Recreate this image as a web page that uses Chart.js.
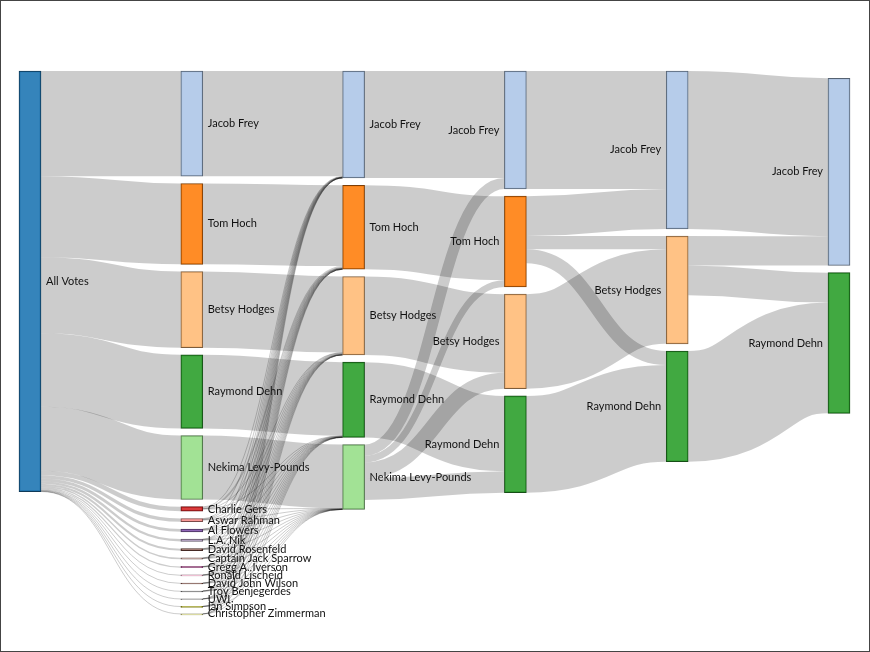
<!DOCTYPE html>
<html>
<head>
<meta charset="utf-8">
<script src="https://cdn.jsdelivr.net/npm/chart.js@4.4.1/dist/chart.umd.min.js"></script>
<style>
  html, body { margin: 0; padding: 0; background: #fff; }
  #wrap { width: 870px; height: 652px; border: 1px solid #444; box-sizing: border-box; }
  canvas { display: block; }
</style>
</head>
<body>
<div id="wrap"><canvas id="sankey" width="868" height="650"></canvas></div>
<script>
// first round votes, main five then minor candidates
const candidates = [
  "Jacob Frey", "Tom Hoch", "Betsy Hodges", "Raymond Dehn", "Nekima Levy-Pounds",
  "Charlie Gers", "Aswar Rahman", "Al Flowers", "L.A. Nik", "David Rosenfeld",
  "Captain Jack Sparrow", "Gregg A. Iverson", "Ronald Lischeid", "David John Wilson",
  "Troy Benjegerdes", "UWI", "Ian Simpson", "Christopher Zimmerman"
];
const firstRound = [22900, 17600, 16550, 16000, 13900, 1000, 720, 620, 520, 440, 300, 260, 210, 170, 130, 90, 60, 30];

// round 2: minor candidates -> Frey, Hoch, Hodges, Dehn, Levy-Pounds
const round2Names = ["Jacob Frey", "Tom Hoch", "Betsy Hodges", "Raymond Dehn", "Nekima Levy-Pounds"];
const minorTransfers = [
  [90, 330, 40, 30, 20],
  [70, 90, 90, 70, 40],
  [30, 40, 120, 60, 50],
  [40, 50, 80, 50, 20],
  [30, 30, 60, 60, 20],
  [30, 30, 40, 20, 10],
  [20, 40, 30, 10, 10],
  [20, 30, 20, 10, 10],
  [20, 20, 20, 10, 5],
  [10, 10, 10, 20, 5],
  [10, 10, 10, 5, 5],
  [5, 5, 5, 10, 5],
  [5, 5, 5, 5, 0]
];

// round 3: Levy-Pounds eliminated
const round3Names = ["Jacob Frey", "Tom Hoch", "Betsy Hodges", "Raymond Dehn"];
const levyTransfers = [2390, 1460, 3490, 4690];

// round 4: Hoch eliminated
const round4Names = ["Jacob Frey", "Betsy Hodges", "Raymond Dehn"];
const hochTransfers = [8680, 2870, 3040];

// round 5: Hodges eliminated
const round5Names = ["Jacob Frey", "Raymond Dehn"];
const hodgesTransfers = [6380, 6510];

const category20 = ["#1f77b4", "#aec7e8", "#ff7f0e", "#ffbb78", "#2ca02c", "#98df8a", "#d62728", "#ff9896",
  "#9467bd", "#c5b0d5", "#8c564b", "#c49c94", "#e377c2", "#f7b6d2", "#7f7f7f", "#c7c7c7",
  "#bcbd22", "#dbdb8d", "#17becf", "#9edae5"];

const NODE_W = 22;
const PAD_PX = 7.2;
const PADDING = { top: 70, bottom: 37, left: 29, right: 30 };
const CANVAS_H = 650;

// colour by first word of the name, like the d3 example
const colorKeys = [];
const colorFor = (name) => {
  const key = name.replace(/ .*/, "");
  let i = colorKeys.indexOf(key);
  if (i < 0) { colorKeys.push(key); i = colorKeys.length - 1; }
  return category20[i % 20];
};
const hexRgb = (hex) => [1, 3, 5].map((i) => parseInt(hex.slice(i, i + 2), 16));
const rgba = (hex, a) => { const c = hexRgb(hex); return `rgba(${c[0]},${c[1]},${c[2]},${a})`; };
const darker = (hex, k) => {
  const f = Math.pow(0.7, k);
  const c = hexRgb(hex).map((v) => Math.round(v * f));
  return `rgb(${c[0]},${c[1]},${c[2]})`;
};

// build nodes and links
const nodes = [];
const links = [];
const columns = [];
const addNode = (name, col) => {
  const n = { name, col, sourceLinks: [], targetLinks: [] };
  nodes.push(n);
  (columns[col] = columns[col] || []).push(n);
  return n;
};
const addLink = (source, target, value) => {
  if (!value) return;
  const l = { source, target, value };
  links.push(l);
  source.sourceLinks.push(l);
  target.targetLinks.push(l);
};
const find = (col, name) => columns[col].find((n) => n.name === name);

const allNode = addNode("All Votes", 0);
candidates.forEach((name, i) => {
  const n = addNode(name, 1);
  addLink(allNode, n, firstRound[i]);
});

const stages = [
  { names: round2Names, out: candidates.slice(5), transfers: minorTransfers },
  { names: round3Names, out: ["Nekima Levy-Pounds"], transfers: [levyTransfers] },
  { names: round4Names, out: ["Tom Hoch"], transfers: [hochTransfers] },
  { names: round5Names, out: ["Betsy Hodges"], transfers: [hodgesTransfers] }
];
stages.forEach((st, s) => {
  const col = s + 2;
  st.names.forEach((name) => addNode(name, col));
  st.names.forEach((name) => {
    const prev = find(col - 1, name);
    const carried = prev.targetLinks.reduce((a, l) => a + l.value, 0);
    addLink(prev, find(col, name), carried);
  });
  st.out.forEach((name, j) => {
    const prev = find(col - 1, name);
    st.names.forEach((t, k) => addLink(prev, find(col, t), st.transfers[j][k]));
  });
});

nodes.forEach((n) => {
  const vin = n.targetLinks.reduce((a, l) => a + l.value, 0);
  const vout = n.sourceLinks.reduce((a, l) => a + l.value, 0);
  n.value = Math.max(vin, vout);
});

// vertical layout in vote units
const plotH = CANVAS_H - PADDING.top - PADDING.bottom;
const maxN = Math.max(...columns.map((c) => c.length));
const biggest = Math.max(...columns.map((c) => c.reduce((a, n) => a + n.value, 0)));
const ky = (plotH - (maxN - 1) * PAD_PX) / biggest;
const yMax = plotH / ky;
const padVal = PAD_PX / ky;

const stack = (col, start) => {
  let y = start;
  col.forEach((n) => { n.y0 = y; n.y1 = y + n.value; y = n.y1 + padVal; });
};
columns.forEach((col) => stack(col, 0));

// final round settles toward the weighted centre of the nodes feeding its leader
const lastCol = columns[columns.length - 1];
const lead = lastCol[0];
const feedCentre = lead.targetLinks.reduce((a, l) => a + (l.source.y0 + l.source.y1) / 2 * l.value, 0) / lead.value;
stack(lastCol, Math.max(0, feedCentre - lead.value / 2));

nodes.forEach((n) => {
  n.sourceLinks.sort((a, b) => a.target.y0 - b.target.y0);
  n.targetLinks.sort((a, b) => a.source.y0 - b.source.y0);
  let y = n.y0;
  n.sourceLinks.forEach((l) => { l.sy = y; y += l.value; });
  y = n.y0;
  n.targetLinks.forEach((l) => { l.ty = y; y += l.value; });
});

const linkPlugin = {
  id: "sankeyLinks",
  beforeDatasetsDraw(chart) {
    const { ctx } = chart;
    const xs = chart.scales.x;
    const ys = chart.scales.y;
    ctx.save();
    ctx.strokeStyle = "rgba(0,0,0,0.2)";
    links.forEach((l) => {
      const x0 = xs.getPixelForValue(l.source.col) + NODE_W / 2;
      const x1 = xs.getPixelForValue(l.target.col) - NODE_W / 2;
      const ya = ys.getPixelForValue(l.sy + l.value / 2);
      const yb = ys.getPixelForValue(l.ty + l.value / 2);
      const w = Math.abs(ys.getPixelForValue(0) - ys.getPixelForValue(l.value));
      const xm = (x0 + x1) / 2;
      ctx.beginPath();
      ctx.moveTo(x0, ya);
      ctx.bezierCurveTo(xm, ya, xm, yb, x1, yb);
      ctx.lineWidth = Math.max(1, w);
      ctx.stroke();
    });
    ctx.restore();
  }
};

const labelPlugin = {
  id: "sankeyLabels",
  afterDatasetsDraw(chart) {
    const { ctx } = chart;
    const xs = chart.scales.x;
    const ys = chart.scales.y;
    const half = (columns.length - 1) / 2;
    ctx.save();
    ctx.font = "11px Lato, 'Open Sans', sans-serif";
    ctx.fillStyle = "#111";
    ctx.textBaseline = "middle";
    nodes.forEach((n) => {
      const xc = xs.getPixelForValue(n.col);
      const yc = ys.getPixelForValue((n.y0 + n.y1) / 2);
      if (n.col < half) {
        ctx.textAlign = "left";
        ctx.fillText(n.name, xc + NODE_W / 2 + 5, yc);
      } else {
        ctx.textAlign = "right";
        ctx.fillText(n.name, xc - NODE_W / 2 - 5, yc);
      }
    });
    ctx.restore();
  }
};

const nodeColors = nodes.map((n) => colorFor(n.name));

new Chart(document.getElementById("sankey"), {
  type: "bar",
  data: {
    datasets: [{
      data: nodes.map((n) => ({ x: n.col, y: [n.y0, n.y1] })),
      backgroundColor: nodeColors.map((c) => rgba(c, 0.9)),
      borderColor: nodeColors.map((c) => darker(c, 2)),
      borderWidth: 1,
      borderSkipped: false,
      barThickness: NODE_W,
      minBarLength: 1,
      clip: false
    }]
  },
  options: {
    responsive: false,
    animation: false,
    events: [],
    layout: { padding: PADDING },
    scales: {
      x: { type: "linear", min: 0, max: columns.length - 1, display: false, offset: false },
      y: { type: "linear", min: 0, max: yMax, reverse: true, display: false }
    },
    plugins: {
      legend: { display: false },
      tooltip: { enabled: false }
    }
  },
  plugins: [linkPlugin, labelPlugin]
});
</script>
</body>
</html>
